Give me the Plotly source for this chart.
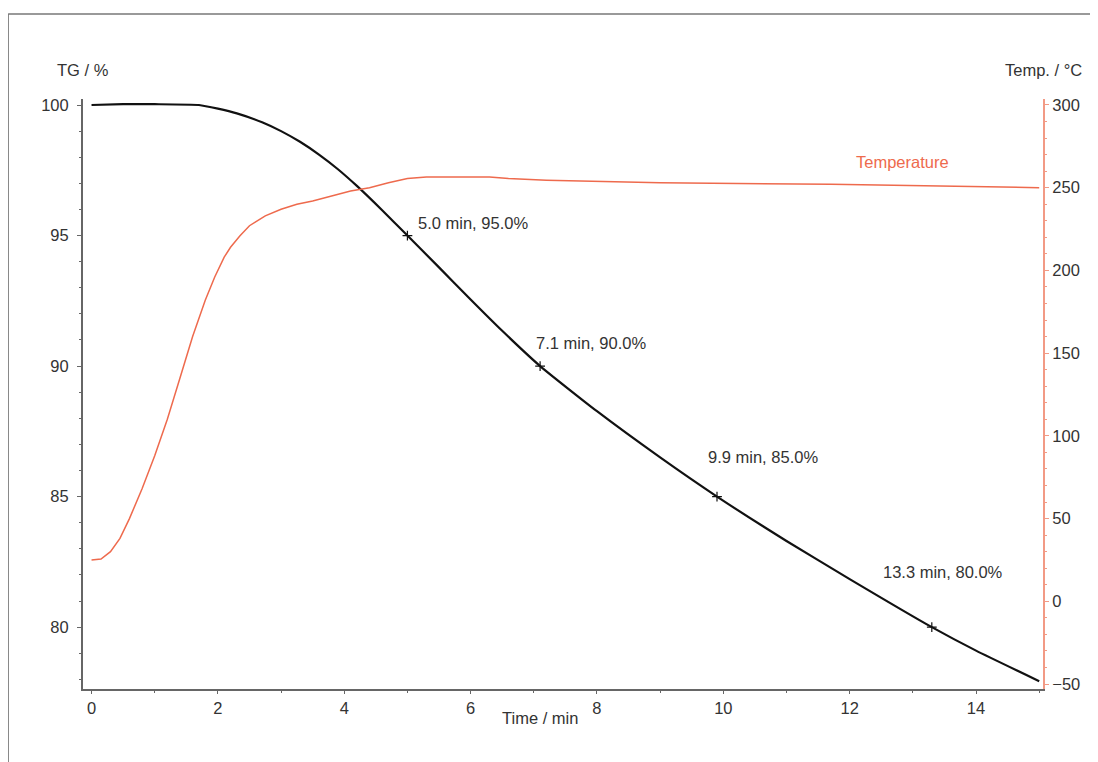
import plotly.graph_objects as go

# TG curve (time in min, mass %)
tg_time = [0, 0.5, 1.0, 1.7, 2.0, 2.3, 2.7, 3.0, 3.3, 3.6, 3.9, 4.2, 4.6, 5.0, 5.5, 6.0,
           6.5, 7.1, 8.0, 9.0, 9.9, 11.0, 12.0, 13.3, 14.0, 15.0]
tg_value = [100.0, 100.03, 100.03, 100.0, 99.86, 99.68, 99.34, 99.0, 98.59, 98.1, 97.54,
            96.9, 95.97, 95.0, 93.78, 92.55, 91.35, 90.0, 88.27, 86.5, 85.0, 83.3,
            81.84, 80.0, 79.1, 77.93]

# Temperature curve (time in min, °C)
temp_time = [0, 0.15, 0.3, 0.45, 0.6, 0.8, 1.0, 1.2, 1.4, 1.6, 1.8, 1.95, 2.1, 2.2, 2.35,
             2.5, 2.75, 3.0, 3.25, 3.5, 3.8, 4.1, 4.4, 4.7, 5.0, 5.3, 6.3, 6.6, 7.2, 9.0,
             11.7, 14.7, 15.0]
temp_value = [25, 25.5, 30, 38, 50, 68, 88, 110, 135, 160, 182, 196, 208, 214, 221,
              227, 233, 237, 240, 242, 245, 248, 250, 253, 255.5, 256.5, 256.5, 255.5,
              254.5, 253, 252, 250.5, 250.0]

# Marked points
mark_time = [5.0, 7.1, 9.9, 13.3]
mark_tg = [95.0, 90.0, 85.0, 80.0]
mark_labels = ["5.0 min, 95.0%", "7.1 min, 90.0%", "9.9 min, 85.0%", "13.3 min, 80.0%"]
label_pos_x = [5.14, 7.01, 9.72, 12.5]
label_pos_y = [95.48, 90.88, 86.51, 82.11]

ORANGE = "#EE6A4D"
ORANGE_AXIS = "#F29A85"
GRAY = "#666666"
TXT = "#333333"
FONT = "Liberation Sans, Arial, sans-serif"
FS = 16.5

fig = go.Figure()
fig.add_trace(go.Scatter(x=temp_time, y=temp_value, mode="lines", yaxis="y2",
                         line=dict(color=ORANGE, width=1.5), showlegend=False,
                         hoverinfo="skip"))
fig.add_trace(go.Scatter(x=tg_time, y=tg_value, mode="lines",
                         line=dict(color="#111111", width=2.2, shape="spline",
                                   smoothing=0.5),
                         showlegend=False))
fig.add_trace(go.Scatter(x=mark_time, y=mark_tg, mode="markers",
                         marker=dict(symbol="cross-thin", size=7,
                                     line=dict(color="#111111", width=1.2)),
                         showlegend=False))

annotations = []
for lx, ly, txt in zip(label_pos_x, label_pos_y, mark_labels):
    annotations.append(dict(x=lx, y=ly, xref="x", yref="y", text=txt, showarrow=False,
                            xanchor="left", yanchor="middle",
                            font=dict(size=FS, color=TXT, family=FONT)))
annotations.append(dict(x=12.07, y=265.5, xref="x", yref="y2", text="Temperature",
                        showarrow=False, xanchor="left", yanchor="middle",
                        font=dict(size=FS, color=ORANGE, family=FONT)))
annotations.append(dict(x=0.0, y=1.049, xref="paper", yref="paper", text="TG / %",
                        showarrow=False, xanchor="center", yanchor="middle",
                        font=dict(size=FS, color=TXT, family=FONT)))
annotations.append(dict(x=1.0, y=1.049, xref="paper", yref="paper", text="Temp. / °C",
                        showarrow=False, xanchor="center", yanchor="middle",
                        font=dict(size=FS, color=TXT, family=FONT)))
annotations.append(dict(x=0.476, y=-0.049, xref="paper", yref="paper", text="Time / min",
                        showarrow=False, xanchor="center", yanchor="middle",
                        font=dict(size=FS, color=TXT, family=FONT)))

shapes = [
    dict(type="line", xref="paper", yref="paper", x0=-0.078, x1=-0.078, y0=1.144, y1=-0.2,
         line=dict(color="#777777", width=1.5)),
    dict(type="line", xref="paper", yref="paper", x0=-0.078, x1=1.1, y0=1.144, y1=1.144,
         line=dict(color="#777777", width=1.5)),
]

fig.update_layout(
    width=1090, height=754,
    margin=dict(l=75, r=55, t=91, b=73),
    plot_bgcolor="white", paper_bgcolor="white",
    font=dict(family=FONT, size=FS, color=TXT),
    annotations=annotations, shapes=shapes,
    xaxis=dict(range=[-0.135, 15.06], tickvals=[0, 2, 4, 6, 8, 10, 12, 14],
               showline=True, linecolor=GRAY, linewidth=2, showgrid=False, zeroline=False,
               ticks="outside", ticklen=3, tickcolor=GRAY, tickwidth=1,
               minor=dict(dtick=1, tick0=0, ticks="outside", ticklen=2, tickcolor=GRAY,
                          showgrid=False),
               tickfont=dict(size=FS, color=TXT)),
    yaxis=dict(range=[77.63, 100.23], tickvals=[80, 85, 90, 95, 100],
               showline=True, linecolor=GRAY, linewidth=2, showgrid=False, zeroline=False,
               ticks="outside", ticklen=4, tickcolor=GRAY, tickwidth=1,
               ticklabelstandoff=5,
               minor=dict(dtick=1, tick0=0, ticks="outside", ticklen=2, tickcolor=GRAY,
                          showgrid=False),
               tickfont=dict(size=FS, color=TXT)),
    yaxis2=dict(range=[-53, 303.6], tickvals=[-50, 0, 50, 100, 150, 200, 250, 300],
                overlaying="y", side="right", anchor="x",
                showline=True, linecolor=ORANGE_AXIS, linewidth=2, showgrid=False,
                zeroline=False, ticks="outside", ticklen=4, tickcolor=ORANGE_AXIS,
                minor=dict(dtick=10, tick0=0, ticks="outside", ticklen=2,
                           tickcolor=ORANGE_AXIS, showgrid=False),
                tickfont=dict(size=FS, color=TXT)),
)

fig.write_html("out.html")
